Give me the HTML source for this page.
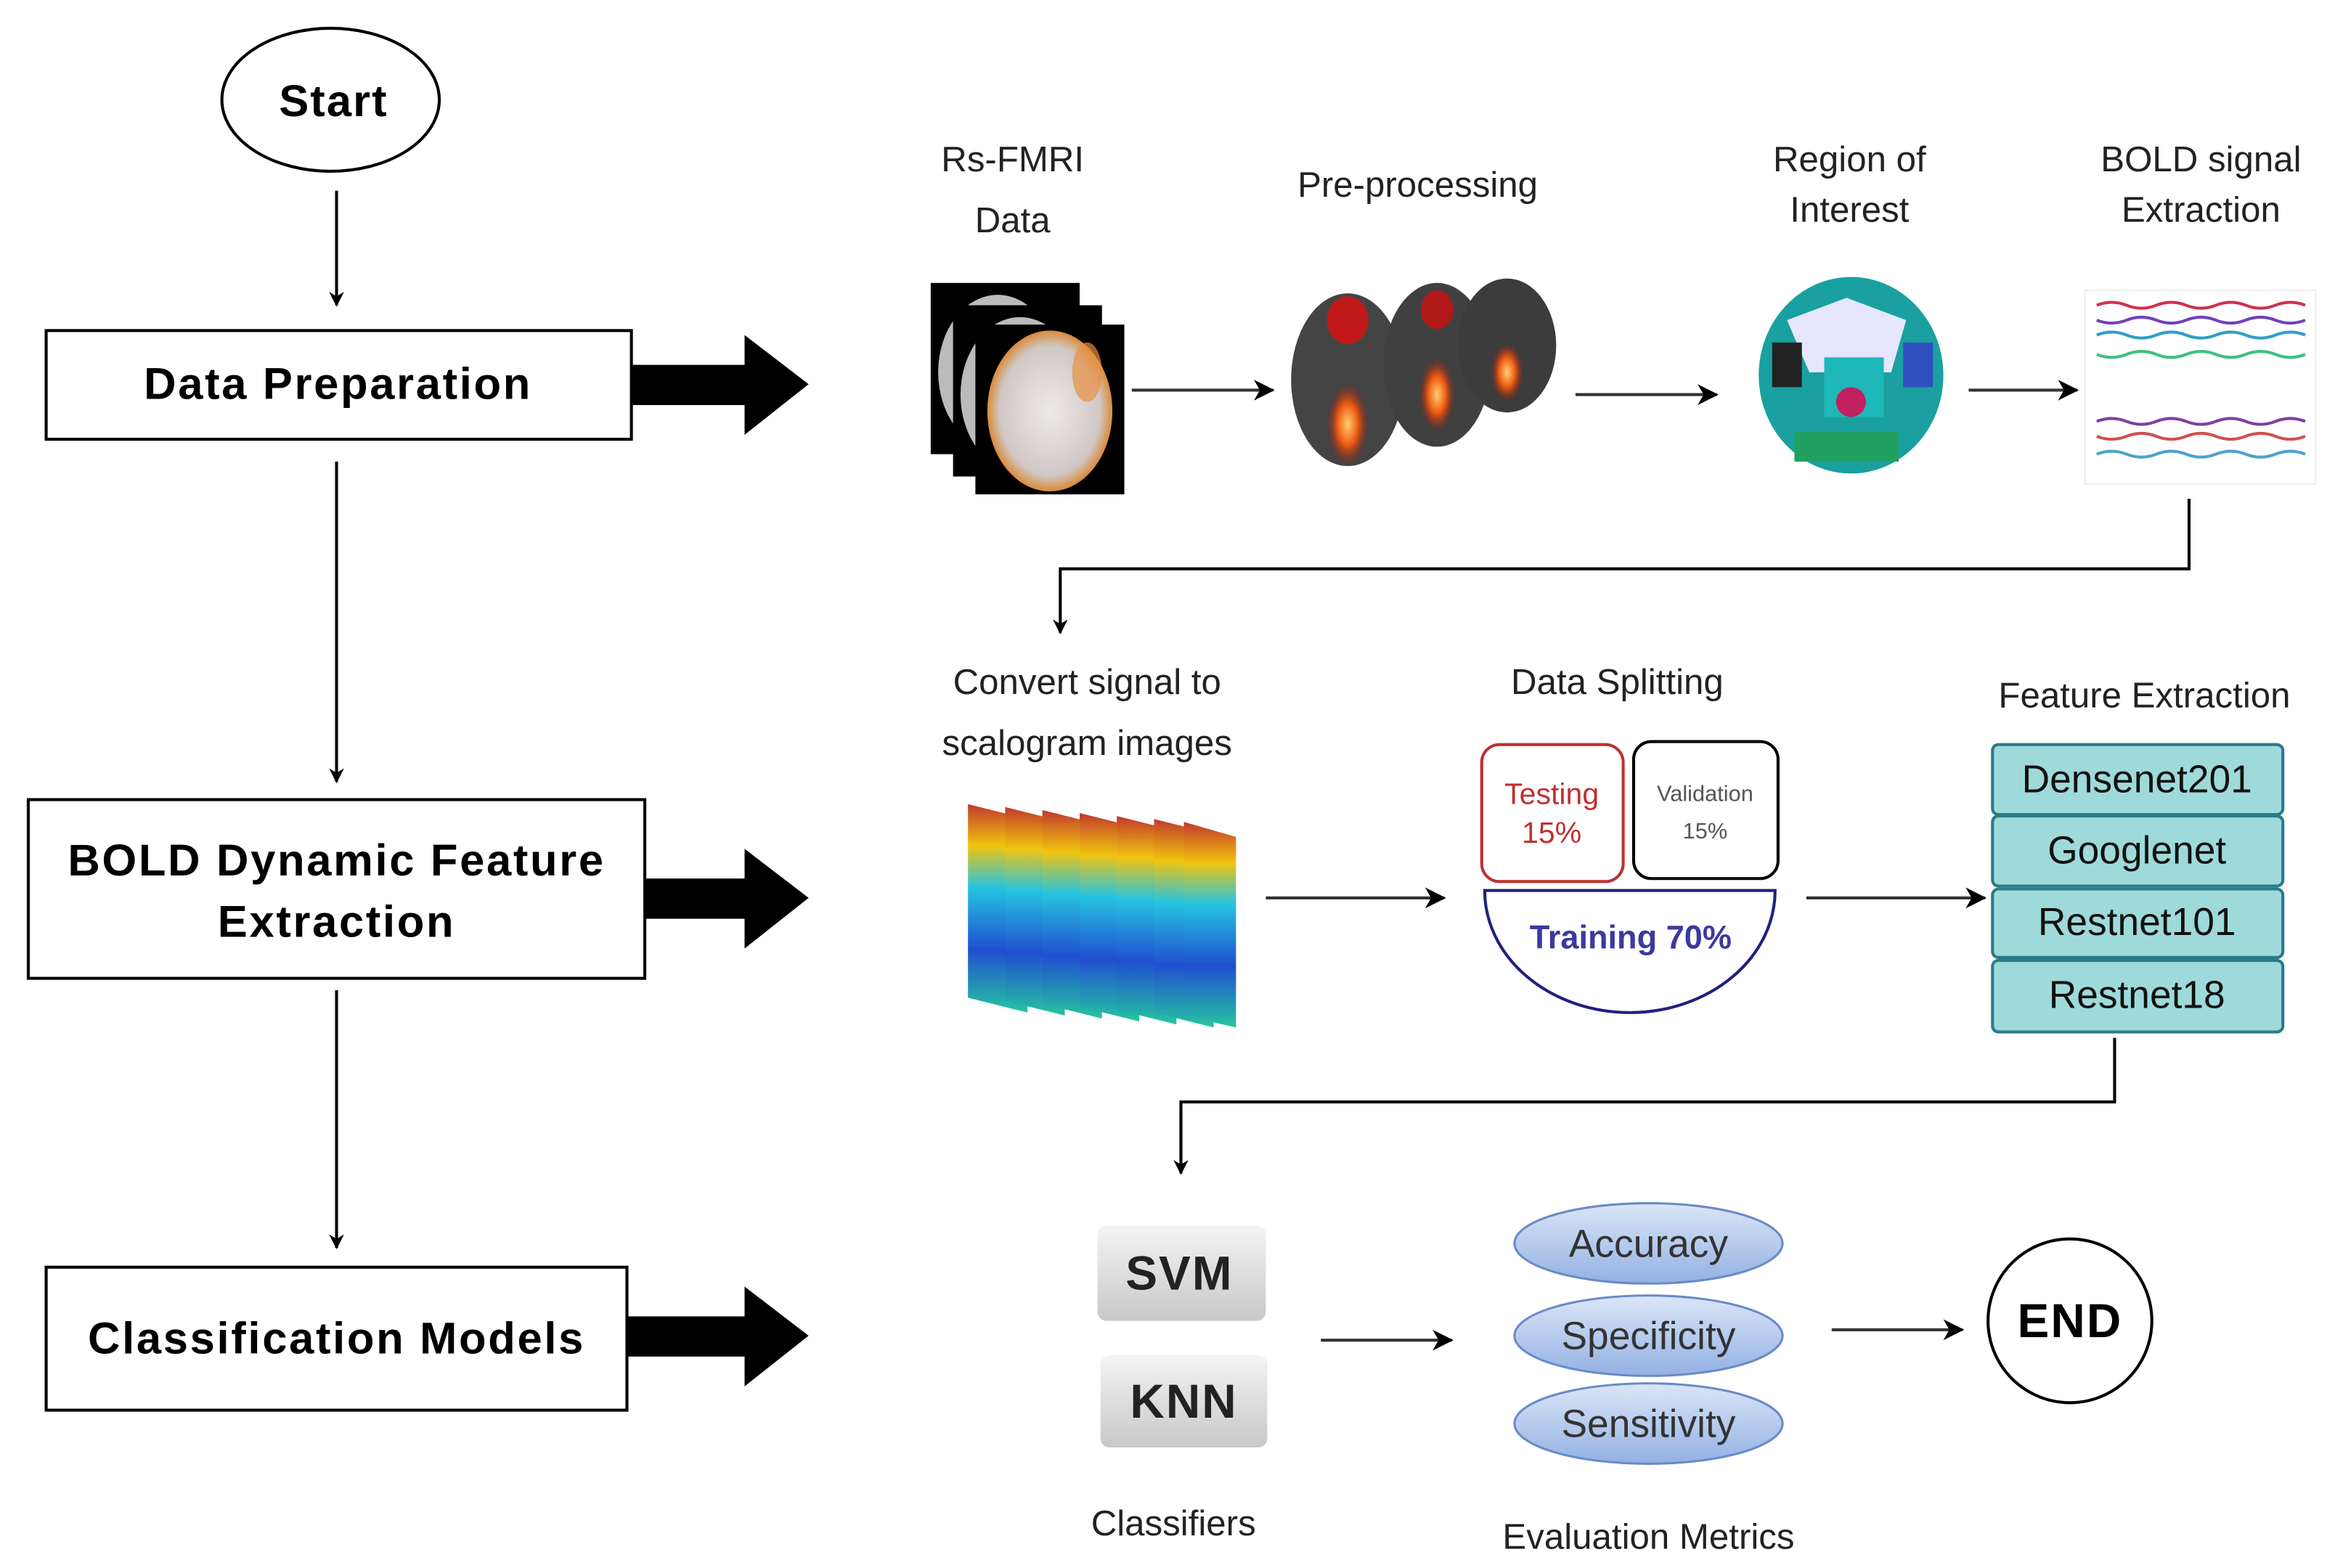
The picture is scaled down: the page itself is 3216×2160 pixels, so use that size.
<!DOCTYPE html>
<html><head><meta charset="utf-8"><style>
html,body{margin:0;padding:0;background:#fff;}
svg{display:block;}
text{font-family:"Liberation Sans",sans-serif;}
</style></head><body>
<svg width="3216" height="2160" viewBox="0 0 1568 1053" preserveAspectRatio="none" xmlns="http://www.w3.org/2000/svg">
<defs>
<marker id="ah" markerWidth="10" markerHeight="10" refX="9" refY="5" orient="auto" markerUnits="userSpaceOnUse"><path d="M0,0 L10,5 L0,10 L3,5 z" fill="#000"/></marker>
<marker id="ah2" markerWidth="14" markerHeight="14" refX="13" refY="7" orient="auto" markerUnits="userSpaceOnUse"><path d="M0,0 L14,7 L0,14 L4,7 z" fill="#000"/></marker>
<linearGradient id="grey" x1="0" y1="0" x2="0" y2="1"><stop offset="0" stop-color="#f4f4f4"/><stop offset="1" stop-color="#c8c8c8"/></linearGradient>
<linearGradient id="blue" x1="0" y1="0" x2="0" y2="1"><stop offset="0" stop-color="#dbe6f7"/><stop offset="1" stop-color="#93b1e3"/></linearGradient>
<linearGradient id="scal" x1="0" y1="0" x2="0" y2="1"><stop offset="0" stop-color="#c0392b"/><stop offset="0.2" stop-color="#f1c40f"/><stop offset="0.4" stop-color="#27c4e0"/><stop offset="0.7" stop-color="#1f4fd0"/><stop offset="1" stop-color="#27c4a0"/></linearGradient>
<radialGradient id="brain" cx="0.5" cy="0.5" r="0.5"><stop offset="0" stop-color="#eeeaea"/><stop offset="0.8" stop-color="#d0c8c6"/><stop offset="1" stop-color="#d98b3a"/></radialGradient>
<radialGradient id="hot" cx="0.5" cy="0.5" r="0.5"><stop offset="0" stop-color="#ffd070"/><stop offset="0.5" stop-color="#ee5a10"/><stop offset="1" stop-color="#9a1a10" stop-opacity="0"/></radialGradient>
</defs>

<ellipse cx="222" cy="67" rx="73" ry="48" fill="#fff" stroke="#000" stroke-width="2"/>
<text x="224" y="78" font-size="30" font-weight="bold" text-anchor="middle" letter-spacing="1">Start</text>
<line x1="226" y1="128" x2="226" y2="205" stroke="#000" stroke-width="2" marker-end="url(#ah)"/>
<rect x="31" y="222" width="393" height="73" fill="#fff" stroke="#000" stroke-width="2"/>
<text x="227" y="268" font-size="30" font-weight="bold" text-anchor="middle" letter-spacing="1.3">Data Preparation</text>
<path d="M424,245 L500,245 L500,225 L543,258 L500,292 L500,272 L424,272 z" fill="#000"/>
<line x1="226" y1="310" x2="226" y2="525" stroke="#000" stroke-width="2" marker-end="url(#ah)"/>
<rect x="19" y="537" width="414" height="120" fill="#fff" stroke="#000" stroke-width="2"/>
<text x="226" y="588" font-size="30" font-weight="bold" text-anchor="middle" letter-spacing="1.3">BOLD Dynamic Feature</text>
<text x="226" y="629" font-size="30" font-weight="bold" text-anchor="middle" letter-spacing="1.3">Extraction</text>
<path d="M433,590 L500,590 L500,570 L543,603 L500,637 L500,617 L433,617 z" fill="#000"/>
<line x1="226" y1="665" x2="226" y2="838" stroke="#000" stroke-width="2" marker-end="url(#ah)"/>
<rect x="31" y="851" width="390" height="96" fill="#fff" stroke="#000" stroke-width="2"/>
<text x="226" y="909" font-size="30" font-weight="bold" text-anchor="middle" letter-spacing="1.3">Classification Models</text>
<path d="M421,884 L500,884 L500,864 L543,897 L500,931 L500,911 L421,911 z" fill="#000"/>

<g font-size="24" text-anchor="middle" fill="#222">
<text x="680" y="115">Rs-FMRI</text><text x="680" y="156">Data</text>
<text x="952" y="132">Pre-processing</text>
<text x="1242" y="115">Region of</text><text x="1242" y="149">Interest</text>
<text x="1478" y="115">BOLD signal</text><text x="1478" y="149">Extraction</text>
</g>
<rect x="625" y="190" width="100" height="115" fill="#000"/>
<ellipse cx="670" cy="250" rx="40" ry="52" fill="#bbb"/>
<rect x="640" y="205" width="100" height="115" fill="#000"/>
<ellipse cx="685" cy="265" rx="40" ry="52" fill="#bbb"/>
<rect x="655" y="218" width="100" height="114" fill="#000"/>
<ellipse cx="705" cy="276" rx="42" ry="54" fill="url(#brain)"/>
<ellipse cx="730" cy="250" rx="10" ry="20" fill="#e89040" opacity="0.7"/>
<line x1="760" y1="262" x2="855" y2="262" stroke="#333" stroke-width="2" marker-end="url(#ah2)"/>
<ellipse cx="905" cy="255" rx="38" ry="58" fill="#444"/>
<ellipse cx="965" cy="245" rx="36" ry="55" fill="#404040"/>
<ellipse cx="1012" cy="232" rx="33" ry="45" fill="#3c3c3c"/>
<ellipse cx="905" cy="215" rx="14" ry="16" fill="#c01818"/>
<ellipse cx="965" cy="208" rx="11" ry="13" fill="#b01818"/>
<ellipse cx="905" cy="285" rx="14" ry="28" fill="url(#hot)"/>
<ellipse cx="965" cy="265" rx="12" ry="25" fill="url(#hot)"/>
<ellipse cx="1012" cy="250" rx="11" ry="20" fill="url(#hot)"/>
<line x1="1058" y1="265" x2="1153" y2="265" stroke="#333" stroke-width="2" marker-end="url(#ah2)"/>
<ellipse cx="1243" cy="252" rx="62" ry="66" fill="#1aa0a0"/>
<path d="M1200,215 L1240,200 L1280,215 L1270,250 L1215,250 z" fill="#e6e6ff"/>
<rect x="1225" y="240" width="40" height="40" fill="#1fb8b8"/>
<circle cx="1243" cy="270" r="10" fill="#c02060"/>
<rect x="1190" y="230" width="20" height="30" fill="#222"/>
<rect x="1278" y="230" width="20" height="30" fill="#3050c0"/>
<rect x="1205" y="290" width="70" height="20" fill="#20a060"/>
<line x1="1322" y1="262" x2="1395" y2="262" stroke="#333" stroke-width="2" marker-end="url(#ah2)"/>
<rect x="1400" y="195" width="155" height="130" fill="#fff" stroke="#eee"/>
<g stroke-width="2" fill="none">
<path d="M1408,205 q10,-4 20,0 t20,0 t20,0 t20,0 t20,0 t20,0 t20,0" stroke="#d03050"/>
<path d="M1408,215 q10,4 20,0 t20,0 t20,0 t20,0 t20,0 t20,0 t20,0" stroke="#7040c0"/>
<path d="M1408,225 q10,-4 20,0 t20,0 t20,0 t20,0 t20,0 t20,0 t20,0" stroke="#30a0c0"/>
<path d="M1408,238 q10,4 20,0 t20,0 t20,0 t20,0 t20,0 t20,0 t20,0" stroke="#40c080"/>
<path d="M1408,283 q10,-4 20,0 t20,0 t20,0 t20,0 t20,0 t20,0 t20,0" stroke="#8040a0"/>
<path d="M1408,293 q10,4 20,0 t20,0 t20,0 t20,0 t20,0 t20,0 t20,0" stroke="#d05050"/>
<path d="M1408,305 q10,-4 20,0 t20,0 t20,0 t20,0 t20,0 t20,0 t20,0" stroke="#50a0d0"/>
</g>
<polyline points="1470,335 1470,382 712,382 712,425" fill="none" stroke="#000" stroke-width="2" marker-end="url(#ah)"/>

<g font-size="24" text-anchor="middle" fill="#222">
<text x="730" y="466">Convert signal to</text><text x="730" y="507">scalogram images</text>
<text x="1086" y="466">Data Splitting</text>
<text x="1440" y="475">Feature Extraction</text>
</g>
<g>
<polygon points="650,540 690,550 690,680 650,670" fill="url(#scal)"/>
<polygon points="675,542 715,552 715,682 675,672" fill="url(#scal)"/>
<polygon points="700,544 740,554 740,684 700,674" fill="url(#scal)"/>
<polygon points="725,546 765,556 765,686 725,676" fill="url(#scal)"/>
<polygon points="750,548 790,558 790,688 750,678" fill="url(#scal)"/>
<polygon points="775,550 815,560 815,690 775,680" fill="url(#scal)"/>
<polygon points="795,552 830,562 830,690 795,682" fill="url(#scal)"/>
</g>
<line x1="850" y1="603" x2="970" y2="603" stroke="#333" stroke-width="2" marker-end="url(#ah2)"/>
<rect x="995" y="500" width="95" height="92" rx="12" fill="#fff" stroke="#c03030" stroke-width="2"/>
<text x="1042" y="540" font-size="20" fill="#c03030" text-anchor="middle">Testing</text>
<text x="1042" y="566" font-size="20" fill="#c03030" text-anchor="middle">15%</text>
<rect x="1097" y="498" width="97" height="92" rx="12" fill="#fff" stroke="#000" stroke-width="2"/>
<text x="1145" y="538" font-size="15" fill="#555" text-anchor="middle">Validation</text>
<text x="1145" y="563" font-size="15" fill="#555" text-anchor="middle">15%</text>
<path d="M997,598 L1192,598 A97.5,82 0 0 1 997,598 z" fill="#fff" stroke="#202080" stroke-width="2"/>
<text x="1095" y="637" font-size="22" font-weight="bold" fill="#3a3aa0" text-anchor="middle">Training 70%</text>
<line x1="1213" y1="603" x2="1333" y2="603" stroke="#333" stroke-width="2" marker-end="url(#ah2)"/>
<g stroke="#2a7a8a" stroke-width="2" fill="#9fdada">
<rect x="1338" y="500" width="195" height="47" rx="4"/>
<rect x="1338" y="548" width="195" height="47" rx="4"/>
<rect x="1338" y="597" width="195" height="46" rx="4"/>
<rect x="1338" y="645" width="195" height="48" rx="4"/>
</g>
<g font-size="26" text-anchor="middle" fill="#111">
<text x="1435" y="532">Densenet201</text>
<text x="1435" y="580">Googlenet</text>
<text x="1435" y="628">Restnet101</text>
<text x="1435" y="677">Restnet18</text>
</g>
<polyline points="1420,697 1420,740 793,740 793,788" fill="none" stroke="#000" stroke-width="2" marker-end="url(#ah)"/>

<rect x="737" y="823" width="113" height="64" rx="6" fill="url(#grey)"/>
<text x="792" y="866" font-size="32" font-weight="bold" text-anchor="middle" fill="#222" letter-spacing="1">SVM</text>
<rect x="739" y="910" width="112" height="62" rx="6" fill="url(#grey)"/>
<text x="795" y="952" font-size="32" font-weight="bold" text-anchor="middle" fill="#222" letter-spacing="1">KNN</text>
<text x="788" y="1031" font-size="24" text-anchor="middle" fill="#222">Classifiers</text>
<line x1="887" y1="900" x2="975" y2="900" stroke="#333" stroke-width="2" marker-end="url(#ah2)"/>
<g stroke="#6a8ac8" stroke-width="1.5" fill="url(#blue)">
<ellipse cx="1107" cy="835" rx="90" ry="27"/>
<ellipse cx="1107" cy="897" rx="90" ry="27"/>
<ellipse cx="1107" cy="956" rx="90" ry="27"/>
</g>
<g font-size="26" text-anchor="middle" fill="#333">
<text x="1107" y="844">Accuracy</text>
<text x="1107" y="906">Specificity</text>
<text x="1107" y="965">Sensitivity</text>
</g>
<text x="1107" y="1040" font-size="24" text-anchor="middle" fill="#222">Evaluation Metrics</text>
<line x1="1230" y1="893" x2="1318" y2="893" stroke="#333" stroke-width="2" marker-end="url(#ah2)"/>
<circle cx="1390" cy="887" r="55" fill="#fff" stroke="#000" stroke-width="2"/>
<text x="1390" y="898" font-size="32" font-weight="bold" text-anchor="middle" letter-spacing="1">END</text>
</svg>
</body></html>
